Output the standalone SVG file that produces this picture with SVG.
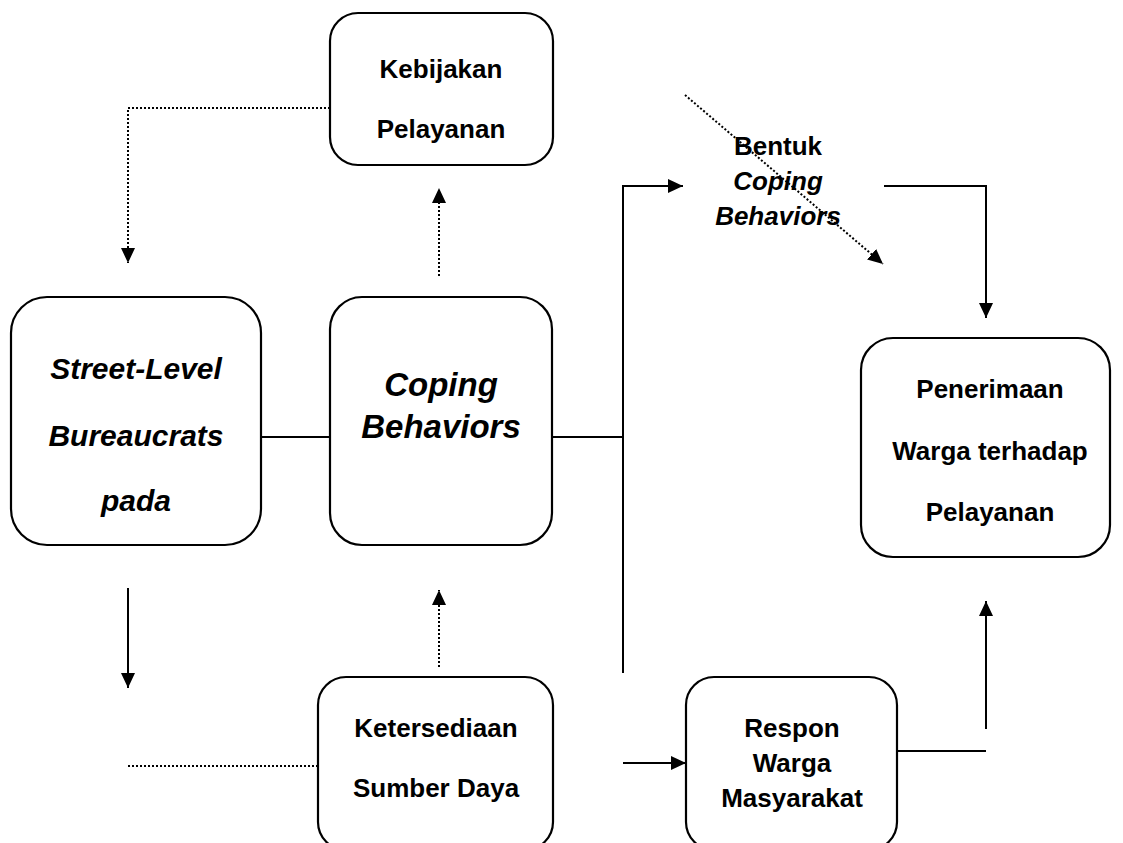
<svg xmlns="http://www.w3.org/2000/svg" width="1123" height="843" viewBox="0 0 1123 843">
<style>
.box{fill:#fff;stroke:#000;stroke-width:2.2}
.t{font-family:"Liberation Sans",Arial,sans-serif;font-weight:bold;font-size:26px;text-anchor:middle;fill:#000}
.i{font-style:italic}
.big{font-size:30px}
.big2{font-size:33px}
.s{fill:none;stroke:#000;stroke-width:2}
.d{fill:none;stroke:#000;stroke-width:2;stroke-dasharray:2 2}
</style>
<defs>
<marker id="ah" markerUnits="userSpaceOnUse" markerWidth="16" markerHeight="14" refX="15" refY="7" orient="auto">
<path d="M0,0 L15,7 L0,14 Z" fill="#000"/>
</marker>
</defs>
<rect width="1123" height="843" fill="#fff"/>
<g id="connectors">
<path class="d" d="M330,108 H128 V263" marker-end="url(#ah)"/>
<path class="d" d="M439,276 V188" marker-end="url(#ah)"/>
<path class="d" d="M685,95 L883,264" marker-end="url(#ah)"/>
<path class="s" d="M261,437 H330"/>
<path class="s" d="M552,437 H623"/>
<path class="s" d="M623,673 V186 H683" marker-end="url(#ah)"/>
<path class="s" d="M884,186 H986 V318" marker-end="url(#ah)"/>
<path class="s" d="M128,588 V688" marker-end="url(#ah)"/>
<path class="d" d="M128,766 H318"/>
<path class="d" d="M439,667 V590" marker-end="url(#ah)"/>
<path class="s" d="M623,763 H686" marker-end="url(#ah)"/>
<path class="s" d="M897,751 H986"/>
<path class="s" d="M986,729 V601" marker-end="url(#ah)"/>
</g>
<g id="kebijakan">
<rect class="box" x="330" y="13" width="223" height="152" rx="28"/>
<text class="t" x="441" y="78">Kebijakan</text>
<text class="t" x="441" y="138">Pelayanan</text>
</g>
<g id="street">
<rect class="box" x="11" y="297" width="250" height="248" rx="36"/>
<text class="t i big" x="136" y="379">Street-Level</text>
<text class="t i big" x="136" y="446">Bureaucrats</text>
<text class="t i big" x="136" y="511">pada</text>
</g>
<g id="coping">
<rect class="box" x="330" y="297" width="222" height="248" rx="32"/>
<text class="t i big2" x="441" y="396">Coping</text>
<text class="t i big2" x="441" y="438">Behaviors</text>
</g>
<g id="bentuk">
<text class="t" x="778" y="155">Bentuk</text>
<text class="t i" x="778" y="190">Coping</text>
<text class="t i" x="778" y="225">Behaviors</text>
</g>
<g id="penerimaan">
<rect class="box" x="861" y="338" width="249" height="219" rx="32"/>
<text class="t" x="990" y="398">Penerimaan</text>
<text class="t" x="990" y="460">Warga terhadap</text>
<text class="t" x="990" y="521">Pelayanan</text>
</g>
<g id="ketersediaan">
<rect class="box" x="318" y="677" width="235" height="173" rx="28"/>
<text class="t" x="436" y="737">Ketersediaan</text>
<text class="t" x="436" y="797">Sumber Daya</text>
</g>
<g id="respon">
<rect class="box" x="686" y="677" width="211" height="173" rx="28"/>
<text class="t" x="792" y="737">Respon</text>
<text class="t" x="792" y="772">Warga</text>
<text class="t" x="792" y="807">Masyarakat</text>
</g>
</svg>
